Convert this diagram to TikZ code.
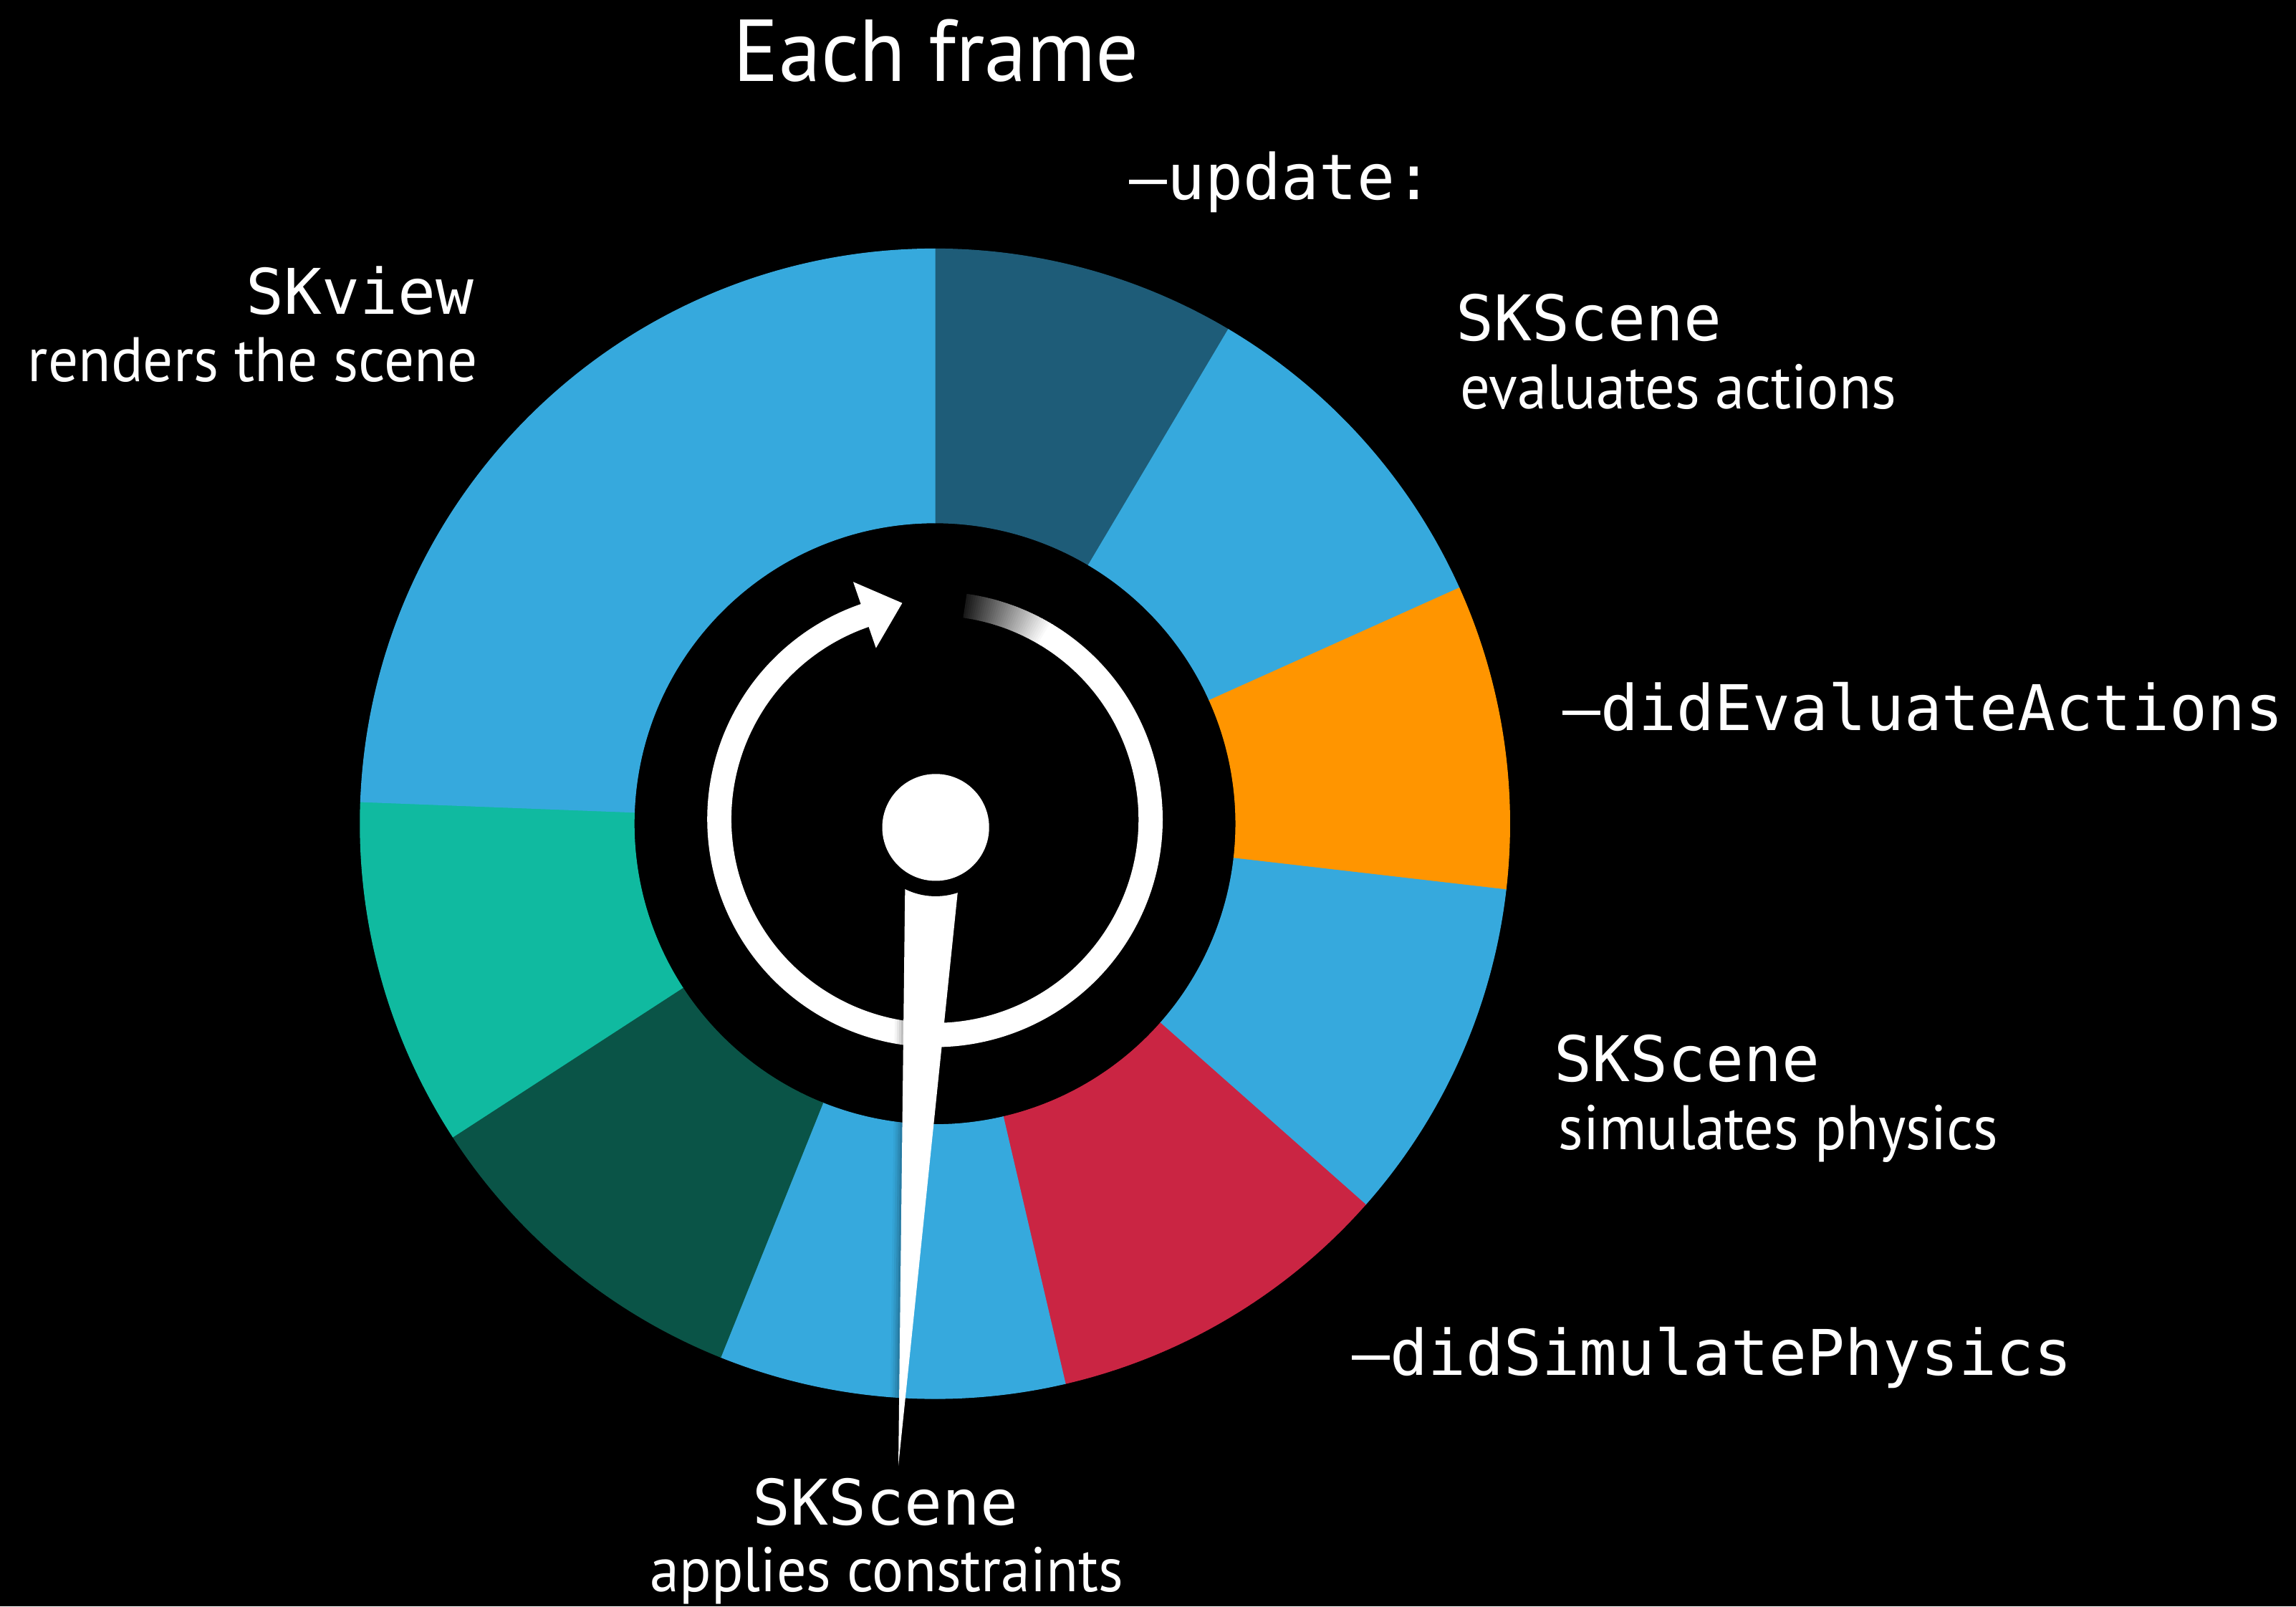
\documentclass[tikz,border=0pt]{standalone}
\usepackage{fontspec}
\usepackage{graphicx}
\setmainfont{PT Sans}
\newfontfamily\codefont{DejaVu Sans Mono}

\definecolor{skyblue}{HTML}{36A9DD}
\definecolor{deepblue}{HTML}{1E5C78}
\definecolor{amber}{HTML}{FF9500}
\definecolor{crimson}{HTML}{CA2543}
\definecolor{pine}{HTML}{0A5447}
\definecolor{jade}{HTML}{10BAA0}

\tikzset{
  code/.style={font=\codefont\fontsize{21.5}{26}\selectfont, text=white, inner sep=0pt},
  desc/.style={font=\fontsize{21.5}{26}\selectfont, text=white, inner sep=0pt},
  headline/.style={font=\fontsize{30}{36}\selectfont, text=white, inner sep=0pt},
  loopline/.style={line width=8.25pt, line cap=butt},
}

\begin{document}
\begin{tikzpicture}[x=0.5pt, y=-0.5pt]
  % canvas
  \fill[black] (0,0) rectangle (1568,1097);
  \useasboundingbox (0,0) rectangle (1568,1097);

  % the frame cycle: coloured annulus sectors, clockwise from the top
  \begin{scope}[shift={(638.5,562.5)}, yscale=-1]
    \foreach \a/\b/\c in {90/59.3/deepblue, 59.3/24.2/skyblue, 24.2/-6.6/amber,
                          -6.6/-41.5/skyblue, -41.5/-76.9/crimson, -76.9/-111.9/skyblue,
                          -111.9/-147/pine, -147/-182.2/jade, -182.2/-270/skyblue}{
      \fill[\c, draw=\c, line width=0.3pt]
        (\a:392.5) arc[start angle=\a, end angle=\b, radius=392.5]
        -- (\b:205.5) arc[start angle=\b, end angle=\a, radius=205.5] -- cycle;
    }
  \end{scope}

  % circular arrow with a fading tail
  \begin{scope}[shift={(638.5,559.5)}, yscale=-1]
    \draw[white, loopline] (59:147.25) arc[start angle=59, end angle=-251.5, radius=147.25];
    \foreach \i in {0,...,39}{
      \pgfmathsetmacro\aa{82-\i*23/40}
      \pgfmathsetmacro\bb{82-(\i+1.4)*23/40}
      \pgfmathsetmacro\pp{10+90*\i/39}
      \draw[white!\pp!black, loopline] (\aa:147.25) arc[start angle=\aa, end angle=\bb, radius=147.25];
    }
    \fill[white] (98.6:149.4) -- (109:171.5) -- (109:123.7) -- cycle;
  \end{scope}

  % clock hand with a soft shadow
  \foreach \s/\o in {0.75/0.10, 1.5/0.08, 2.25/0.06, 3/0.04}{
    \fill[black, opacity=\o, xshift=-\s pt] (618.5,570) -- (658.1,570) -- (613.5,1001) -- cycle;
  }
  \fill[white] (618.5,570) -- (658.1,570) -- (613.5,1001) -- cycle;
  \fill[black] (639,565) circle[radius=47];
  \fill[white] (639,565) circle[radius=36.5];

  % labels
  \node[headline, anchor=base] (title) at (639.3,55.4) {\resizebox{138.5pt}{\height}{Each frame}};

  \node[code, anchor=base west] (update) at (771,136.2) {–update:};

  \node[code, anchor=base west] (evalhead) at (994,232.4) {SKScene};
  \node[desc, anchor=base west] (evaldesc) at (997,279.2) {\resizebox{148.8pt}{\height}{evaluates actions}};

  \node[code, anchor=base west] (didevaluate) at (1067,499) {–didEvaluateActions};

  \node[code, anchor=base west] (physhead) at (1061,738.7) {SKScene};
  \node[desc, anchor=base west] (physdesc) at (1064,785.2) {\resizebox{150pt}{\height}{simulates physics}};

  \node[code, anchor=base west] (didsimulate) at (923,939.3) {–didSimulatePhysics};

  \node[code, anchor=base] (consthead) at (604.6,1041.3) {SKScene};
  \node[desc, anchor=base] (constdesc) at (605.7,1087) {\resizebox{161.5pt}{\height}{applies constraints}};

  \node[code, anchor=base east] (viewhead) at (324,214.5) {SKview};
  \node[desc, anchor=base east] (viewdesc) at (326.5,260.6) {\resizebox{153.5pt}{\height}{renders the scene}};
\end{tikzpicture}
\end{document}
